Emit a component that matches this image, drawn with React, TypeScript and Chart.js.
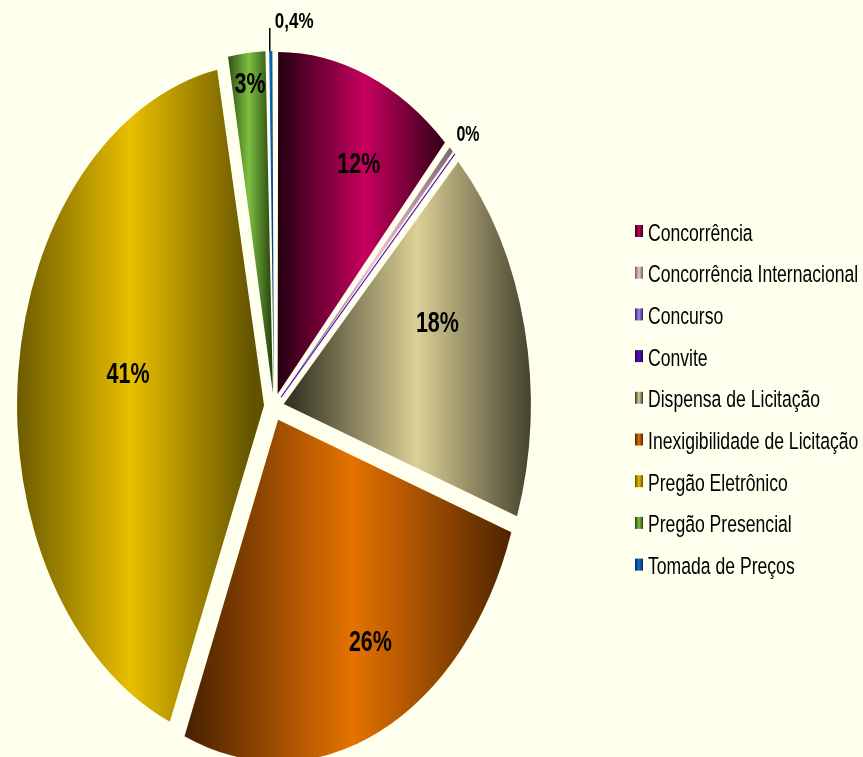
import React, { useEffect, useRef } from "react";
import { Chart, registerables } from "chart.js";

Chart.register(...registerables);

// ---- data ----
const categories = [
  "Concorrência",
  "Concorrência Internacional",
  "Concurso",
  "Convite",
  "Dispensa de Licitação",
  "Inexigibilidade de Licitação",
  "Pregão Eletrônico",
  "Pregão Presencial",
  "Tomada de Preços",
];
const shares = [11.9, 0.49, 0.005, 0.1, 17.9, 25.9, 40.9, 2.6, 0.4];
const valueLabels = ["12%", "0%", "", "", "18%", "26%", "41%", "3%", "0,4%"];

// ---- styles ----
const brightColors = ["#C8005F", "#F2C2D2", "#A484F4", "#5A10C0", "#DCD096", "#E67200", "#E8BF00", "#7EC040", "#0A6CCC"];
const darkColors = ["#2A0014", "#6E5E66", "#30245A", "#1E0548", "#383626", "#4A2200", "#625200", "#264410", "#022A58"];
const labelRadius = [0.753, 1.08, 0, 0, 0.667, 0.746, 0.559, 0.913, 1.0];
const labelTurn = [4.5, 0.9, 0, 0, -8.2, -5.8, 4.2, 0.3, 0];
const labelSize = [21.5, 16, 0, 0, 21.5, 21.5, 21.5, 21.5, 17];
const LEADER_INDEX = 8;

const W = 863;
const H = 757;
const BG = "#FFFFEE";
const CX = 274;
const CY = 407;
const R = 247;
const K = 1.385; // vertical stretch of the pie
const EXPLODE = 10;
const TEXT_K = 1.35;
const FONT = '"Liberation Sans", Arial, sans-serif';

const LEG_MARK_X = 635;
const LEG_TEXT_X = 648;
const LEG_Y0 = 232;
const LEG_STEP = 41.7;
const LEG_FONT = 17.6;

function drawStretchedText(
  ctx: CanvasRenderingContext2D,
  text: string,
  x: number,
  yCenter: number,
  size: number,
  bold: boolean,
  align: CanvasTextAlign
) {
  ctx.save();
  ctx.translate(x, yCenter);
  ctx.scale(1, TEXT_K);
  ctx.font = `${bold ? "bold " : ""}${size}px ${FONT}`;
  ctx.textAlign = align;
  ctx.textBaseline = "alphabetic";
  ctx.fillStyle = "#000";
  ctx.fillText(text, 0, 0.358 * size);
  ctx.restore();
}

const piePlugin = {
  id: "ellipsePie",
  beforeDatasetsDraw(chart: any) {
    const meta = chart.getDatasetMeta(0);
    const ctx: CanvasRenderingContext2D = chart.ctx;
    meta.data.forEach((el: any, i: number) => {
      const off = (el.options.offset || 0) / 4;
      const circ = el.endAngle - el.startAngle;
      const fix = 1 - Math.sin(Math.min(Math.PI, circ));
      el.outerRadius = R - off * fix;
      const half = (el.startAngle + el.endAngle) / 2;
      const ox = el.x + Math.cos(half) * off;
      let minX = ox;
      let maxX = ox;
      const n = 90;
      for (let j = 0; j <= n; j++) {
        const a = el.startAngle + (circ * j) / n;
        const x = ox + Math.cos(a) * R;
        if (x < minX) minX = x;
        if (x > maxX) maxX = x;
      }
      if (maxX - minX < 1) maxX = minX + 1;
      const g = ctx.createLinearGradient(minX, 0, maxX, 0);
      g.addColorStop(0, darkColors[i]);
      g.addColorStop(0.5, brightColors[i]);
      g.addColorStop(1, darkColors[i]);
      el.options.backgroundColor = g;
    });
    const cy = meta.data[0].y;
    ctx.save();
    ctx.translate(0, cy);
    ctx.scale(1, K);
    ctx.translate(0, -cy);
  },
  afterDatasetsDraw(chart: any) {
    const ctx: CanvasRenderingContext2D = chart.ctx;
    ctx.restore();
    const meta = chart.getDatasetMeta(0);
    meta.data.forEach((el: any, i: number) => {
      const txt = valueLabels[i];
      if (!txt) return;
      const half = (el.startAngle + el.endAngle) / 2;
      const ox = el.x + Math.cos(half) * EXPLODE;
      const oy = el.y + Math.sin(half) * EXPLODE;
      if (i === LEADER_INDEX) {
        const tx = ox + Math.cos(half) * R;
        const ty = el.y + (oy + Math.sin(half) * R - el.y) * K;
        const top = ty - 23;
        ctx.save();
        ctx.strokeStyle = "#000";
        ctx.lineWidth = 1.5;
        ctx.beginPath();
        ctx.moveTo(tx - 1, ty);
        ctx.lineTo(tx - 1, top);
        ctx.stroke();
        ctx.restore();
        drawStretchedText(ctx, txt, tx + 4, top - 8, labelSize[i], true, "left");
        return;
      }
      const a = half + (labelTurn[i] * Math.PI) / 180;
      const px = ox + Math.cos(a) * labelRadius[i] * R;
      const py = oy + Math.sin(a) * labelRadius[i] * R;
      drawStretchedText(ctx, txt, px, el.y + (py - el.y) * K, labelSize[i], true, "center");
    });
  },
  afterDraw(chart: any) {
    const ctx: CanvasRenderingContext2D = chart.ctx;
    categories.forEach((name, i) => {
      const y = LEG_Y0 + i * LEG_STEP;
      const g = ctx.createLinearGradient(LEG_MARK_X, 0, LEG_MARK_X + 8, 0);
      g.addColorStop(0, darkColors[i]);
      g.addColorStop(0.5, brightColors[i]);
      g.addColorStop(1, darkColors[i]);
      ctx.fillStyle = g;
      ctx.fillRect(LEG_MARK_X, y - 7, 8, 12);
      drawStretchedText(ctx, name, LEG_TEXT_X, y, LEG_FONT, false, "left");
    });
  },
};

export default function App() {
  const ref = useRef<HTMLCanvasElement>(null);
  useEffect(() => {
    document.body.style.margin = "0";
    document.body.style.background = BG;
    const chart = new Chart(ref.current as HTMLCanvasElement, {
      type: "pie",
      data: {
        labels: categories,
        datasets: [
          {
            data: shares,
            backgroundColor: (c: any) => brightColors[c.dataIndex],
            borderColor: brightColors,
            borderWidth: categories.map((_, i) => (i === 3 ? 1 : 0)),
            offset: EXPLODE * 4,
            radius: R,
            clip: false,
          } as any,
        ],
      },
      options: {
        responsive: false,
        animation: false,
        events: [],
        layout: {
          padding: { left: CX - 250, right: W - (CX + 250), top: CY - 250, bottom: H - (CY + 250) },
        },
        plugins: { legend: { display: false }, tooltip: { enabled: false }, title: { display: false } },
      } as any,
      plugins: [piePlugin as any],
    });
    return () => chart.destroy();
  }, []);
  return (
    <div style={{ width: W, height: H, background: BG, overflow: "hidden" }}>
      <canvas ref={ref} width={W} height={H} style={{ display: "block", width: W, height: H }} />
    </div>
  );
}
